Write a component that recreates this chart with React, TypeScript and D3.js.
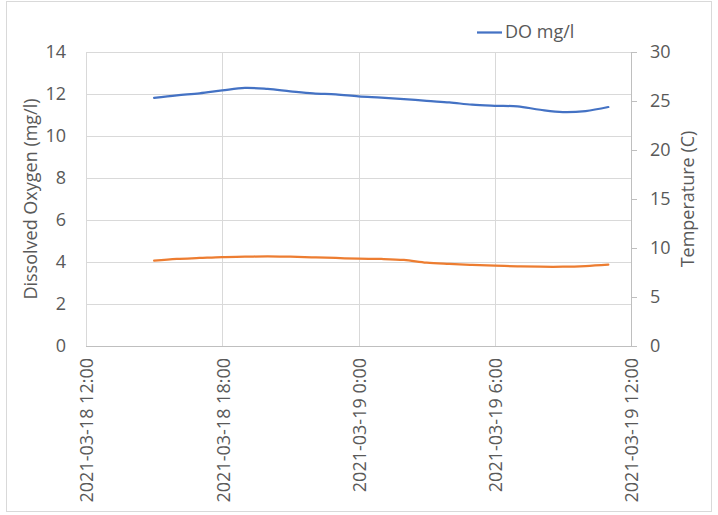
import React from "react";
import * as d3 from "d3";

const startTime = new Date(2021, 2, 18, 15, 0);
const hoursOffset = [0, 1, 2, 3, 4, 5, 6, 7, 8, 9, 10, 11, 12, 13, 14, 15, 16, 17, 18, 19, 20];
const doValues = [11.82, 11.94, 12.03, 12.17, 12.29, 12.24, 12.13, 12.03, 11.98, 11.89, 11.83, 11.76, 11.67, 11.6, 11.49, 11.44, 11.41, 11.25, 11.14, 11.19, 11.38];
const tempValues = [8.7, 8.88, 8.98, 9.08, 9.11, 9.15, 9.11, 9.05, 8.98, 8.91, 8.88, 8.78, 8.5, 8.37, 8.27, 8.2, 8.13, 8.09, 8.09, 8.16, 8.3];
const xTickLabels = ["2021-03-18 12:00", "2021-03-18 18:00", "2021-03-19 0:00", "2021-03-19 6:00", "2021-03-19 12:00"];
const leftTicks = [0, 2, 4, 6, 8, 10, 12, 14];
const rightTicks = [0, 5, 10, 15, 20, 25, 30];
const seriesName = "DO mg/l";
const leftTitle = "Dissolved Oxygen (mg/l)";
const rightTitle = "Temperature (C)";

const W = 718;
const H = 515;
const plot = { left: 86, right: 631, top: 52, bottom: 346 };
const FONT = "'Open Sans', 'Noto Sans', sans-serif";
const TEXT = "#595959";
const GRID = "#d9d9d9";
const AXIS = "#bfbfbf";
const BLUE = "#4472C4";
const ORANGE = "#ED7D31";

export default function App() {
  const t0 = new Date(2021, 2, 18, 12, 0);
  const t1 = new Date(2021, 2, 19, 12, 0);
  const x = d3.scaleTime().domain([t0, t1]).range([plot.left, plot.right]);
  const yL = d3.scaleLinear().domain([0, 14]).range([plot.bottom, plot.top]);
  const yR = d3.scaleLinear().domain([0, 30]).range([plot.bottom, plot.top]);
  const xTicks = xTickLabels.map((_, i) => new Date(t0.getTime() + i * 6 * 3600 * 1000));
  const times = hoursOffset.map((h) => new Date(startTime.getTime() + h * 3600 * 1000));

  const doLine = d3
    .line<number>()
    .x((_, i) => x(times[i]))
    .y((d) => yL(d))
    .curve(d3.curveCatmullRom.alpha(0.5));
  const tLine = d3
    .line<number>()
    .x((_, i) => x(times[i]))
    .y((d) => yR(d))
    .curve(d3.curveCatmullRom.alpha(0.5));

  return (
    <div style={{ position: "fixed", left: 0, top: 0, width: W, height: H }}>
      <svg width={W} height={H} style={{ display: "block", background: "#fff" }} fontFamily={FONT}>
        <rect x={6.5} y={1.5} width={705} height={510} fill="#fff" stroke={GRID} strokeWidth={1} />
        {/* horizontal gridlines */}
        {leftTicks.map((v) => (
          <line key={"hg" + v} x1={plot.left} x2={plot.right} y1={Math.round(yL(v)) + 0.5} y2={Math.round(yL(v)) + 0.5} stroke={GRID} strokeWidth={1} />
        ))}
        {/* vertical gridlines */}
        {xTicks.map((t, i) => (
          <line key={"vg" + i} x1={Math.round(x(t)) + 0.5} x2={Math.round(x(t)) + 0.5} y1={plot.top} y2={plot.bottom} stroke={GRID} strokeWidth={1} />
        ))}
        {/* bottom axis */}
        <line x1={plot.left} x2={plot.right} y1={plot.bottom + 0.5} y2={plot.bottom + 0.5} stroke={AXIS} strokeWidth={1} />
        {/* right axis */}
        <line x1={plot.right + 0.5} x2={plot.right + 0.5} y1={plot.top} y2={plot.bottom + 1} stroke={AXIS} strokeWidth={1} />
        {rightTicks.map((v) => (
          <line key={"rt" + v} x1={plot.right} x2={plot.right + 6} y1={Math.round(yR(v)) + 0.5} y2={Math.round(yR(v)) + 0.5} stroke={AXIS} strokeWidth={1} />
        ))}
        {/* left tick labels */}
        {leftTicks.map((v) => (
          <text key={"lt" + v} x={66} y={yL(v)} dy="0.35em" textAnchor="end" fontSize={18} fill={TEXT}>
            {v}
          </text>
        ))}
        {/* right tick labels */}
        {rightTicks.map((v) => (
          <text key={"rl" + v} x={650} y={yR(v)} dy="0.35em" textAnchor="start" fontSize={18} fill={TEXT}>
            {v}
          </text>
        ))}
        {/* x tick labels */}
        {xTicks.map((t, i) => (
          <text
            key={"xl" + i}
            transform={`translate(${x(t) + 1},${358}) rotate(-90)`}
            dy="0.35em"
            textAnchor="end"
            fontSize={18}
            fill={TEXT}
          >
            {xTickLabels[i]}
          </text>
        ))}
        {/* axis titles */}
        <text transform={`translate(31,${(plot.top + plot.bottom) / 2}) rotate(-90)`} dy="0.35em" textAnchor="middle" fontSize={18} fill={TEXT}>
          {leftTitle}
        </text>
        <text transform={`translate(688,${(plot.top + plot.bottom) / 2}) rotate(-90)`} dy="0.35em" textAnchor="middle" fontSize={18} fill={TEXT}>
          {rightTitle}
        </text>
        {/* lines */}
        <path d={doLine(doValues) || ""} fill="none" stroke={BLUE} strokeWidth={2.25} strokeLinecap="round" />
        <path d={tLine(tempValues) || ""} fill="none" stroke={ORANGE} strokeWidth={2.25} strokeLinecap="round" />
        {/* legend */}
        <line x1={477} x2={502} y1={32.5} y2={32.5} stroke={BLUE} strokeWidth={2.25} />
        <text x={505} y={32} dy="0.35em" fontSize={18} fill={TEXT}>
          {seriesName}
        </text>
      </svg>
    </div>
  );
}
